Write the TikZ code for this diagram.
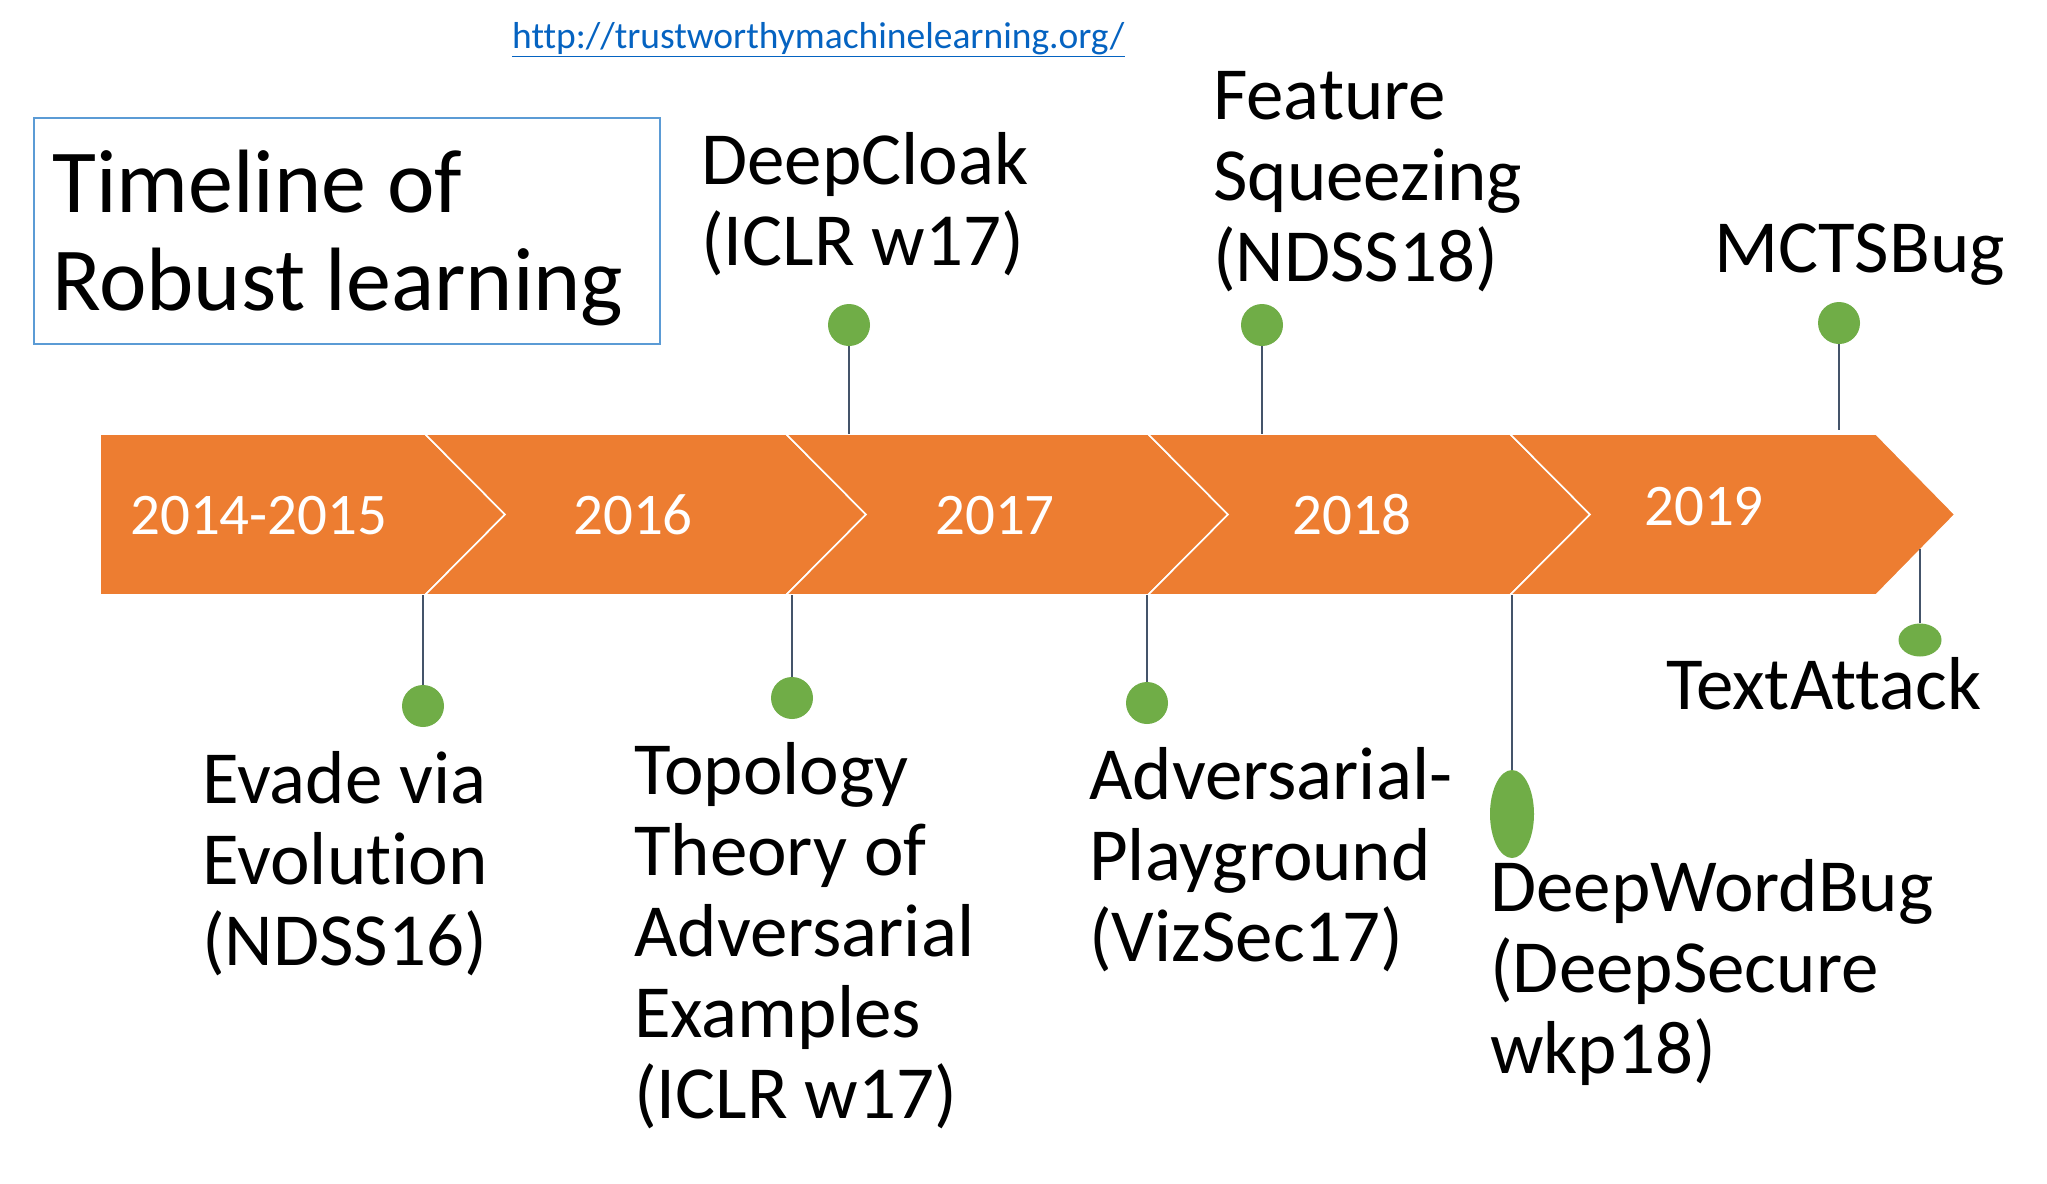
\documentclass[tikz,border=0pt]{standalone}
\usepackage{fontspec}
\setmainfont{Carlito}[Ligatures=NoCommon]
\usetikzlibrary{shapes.geometric}
\definecolor{chevorange}{HTML}{ED7D31}
\definecolor{dotgreen}{HTML}{70AD47}
\definecolor{stemgray}{HTML}{44546A}
\definecolor{boxblue}{HTML}{5B9BD5}
\definecolor{linkblue}{HTML}{0563C1}
\begin{document}
\begin{tikzpicture}[x=1pt,y=-1pt,
  lbl/.style={font=\fontsize{75}{81}\selectfont, align=left, anchor=base west, inner sep=0pt},
  yr/.style={font=\fontsize{59}{70}\selectfont, text=white, anchor=base west, inner sep=0pt},
  dot/.style={circle, fill=dotgreen, minimum size=42pt, inner sep=0pt},
  oval/.style={ellipse, fill=dotgreen, inner sep=0pt},
  stem/.style={draw=stemgray, line width=1.6pt},
  chev/.style={fill=chevorange, draw=white, line width=1.6pt, line join=miter}]
\useasboundingbox (0,0) rectangle (2047,1183);
\fill[white] (0,0) rectangle (2047,1183);

% URL
\node[font=\fontsize{37.5}{44}\selectfont, text=linkblue, anchor=base west, inner sep=0pt] (url) at (512,48) {\underline{http://trustworthymachinelearning.org/}};

% title box
\node[draw=boxblue, line width=1.8pt, minimum width=626pt, minimum height=226pt, inner sep=0pt] (tbox) at (347,231) {};
\node[font=\fontsize{90}{98}\selectfont, align=left, anchor=base west, inner sep=0pt] (title) at (52,310) {Timeline of\\Robust learning};

% chevrons
\path[chev] (100,434) -- (425,434) -- (505,514.5) -- (425,595) -- (100,595) -- cycle;
\path[chev] (425,434) -- (786,434) -- (866,514.5) -- (786,595) -- (425,595) -- (505,514.5) -- cycle;
\path[chev] (786,434) -- (1148,434) -- (1228,514.5) -- (1148,595) -- (786,595) -- (866,514.5) -- cycle;
\path[chev] (1148,434) -- (1510,434) -- (1590,514.5) -- (1510,595) -- (1148,595) -- (1228,514.5) -- cycle;
\path[chev] (1510,434) -- (1876,434) -- (1955,514.5) -- (1876,595) -- (1510,595) -- (1590,514.5) -- cycle;

% years
\node[yr] (y1) at (130,534) {2014-2015};
\node[yr] (y2) at (573,534) {2016};
\node[yr] (y3) at (935,534) {2017};
\node[yr] (y4) at (1292,534) {2018};
\node[yr] (y5) at (1644,525) {2019};

% anchor points on the band
\coordinate (evB) at (423,595);
\coordinate (tpB) at (792,595);
\coordinate (dcB) at (849,434);
\coordinate (apB) at (1147,595);
\coordinate (fsB) at (1262,434);
\coordinate (dwB) at (1512,595);
\coordinate (mcB) at (1839,430);
\coordinate (taB) at (1920,549);

% dots
\node[dot] (evD) at (423,706) {};
\node[dot] (tpD) at (792,698) {};
\node[dot] (dcD) at (849,325) {};
\node[dot] (apD) at (1147,703) {};
\node[dot] (fsD) at (1262,325) {};
\node[oval, minimum width=44pt, minimum height=88pt] (dwD) at (1512,814) {};
\node[dot] (mcD) at (1839,323) {};
\node[oval, minimum width=43pt, minimum height=33pt] (taD) at (1920,640) {};

% stems
\draw[stem] (evD) -- (evB);
\draw[stem] (tpD) -- (tpB);
\draw[stem] (dcD) -- (dcB);
\draw[stem] (apD) -- (apB);
\draw[stem] (fsD) -- (fsB);
\draw[stem] (dwD) -- (dwB);
\draw[stem] (mcD) -- (mcB);
\draw[stem] (taD) -- (taB);

% labels (anchor = baseline of the last line)
\node[lbl] (dcT) at (701,265) {DeepCloak\\(ICLR w17)};
\node[lbl] (fsT) at (1213,281) {Feature\\Squeezing\\(NDSS18)};
\node[lbl] (mcT) at (1714,272) {MCTSBug};
\node[lbl] (taT) at (1666,709) {TextAttack};
\node[lbl] (evT) at (202,965) {Evade via\\Evolution\\(NDSS16)};
\node[lbl] (tpT) at (634,1118) {Topology\\Theory of\\Adversarial\\Examples\\(ICLR w17)};
\node[lbl] (apT) at (1089,961) {Adversarial-\\Playground\\(VizSec17)};
\node[lbl] (dwT) at (1490,1073) {DeepWordBug\\(DeepSecure\\wkp18)};
\end{tikzpicture}
\end{document}
